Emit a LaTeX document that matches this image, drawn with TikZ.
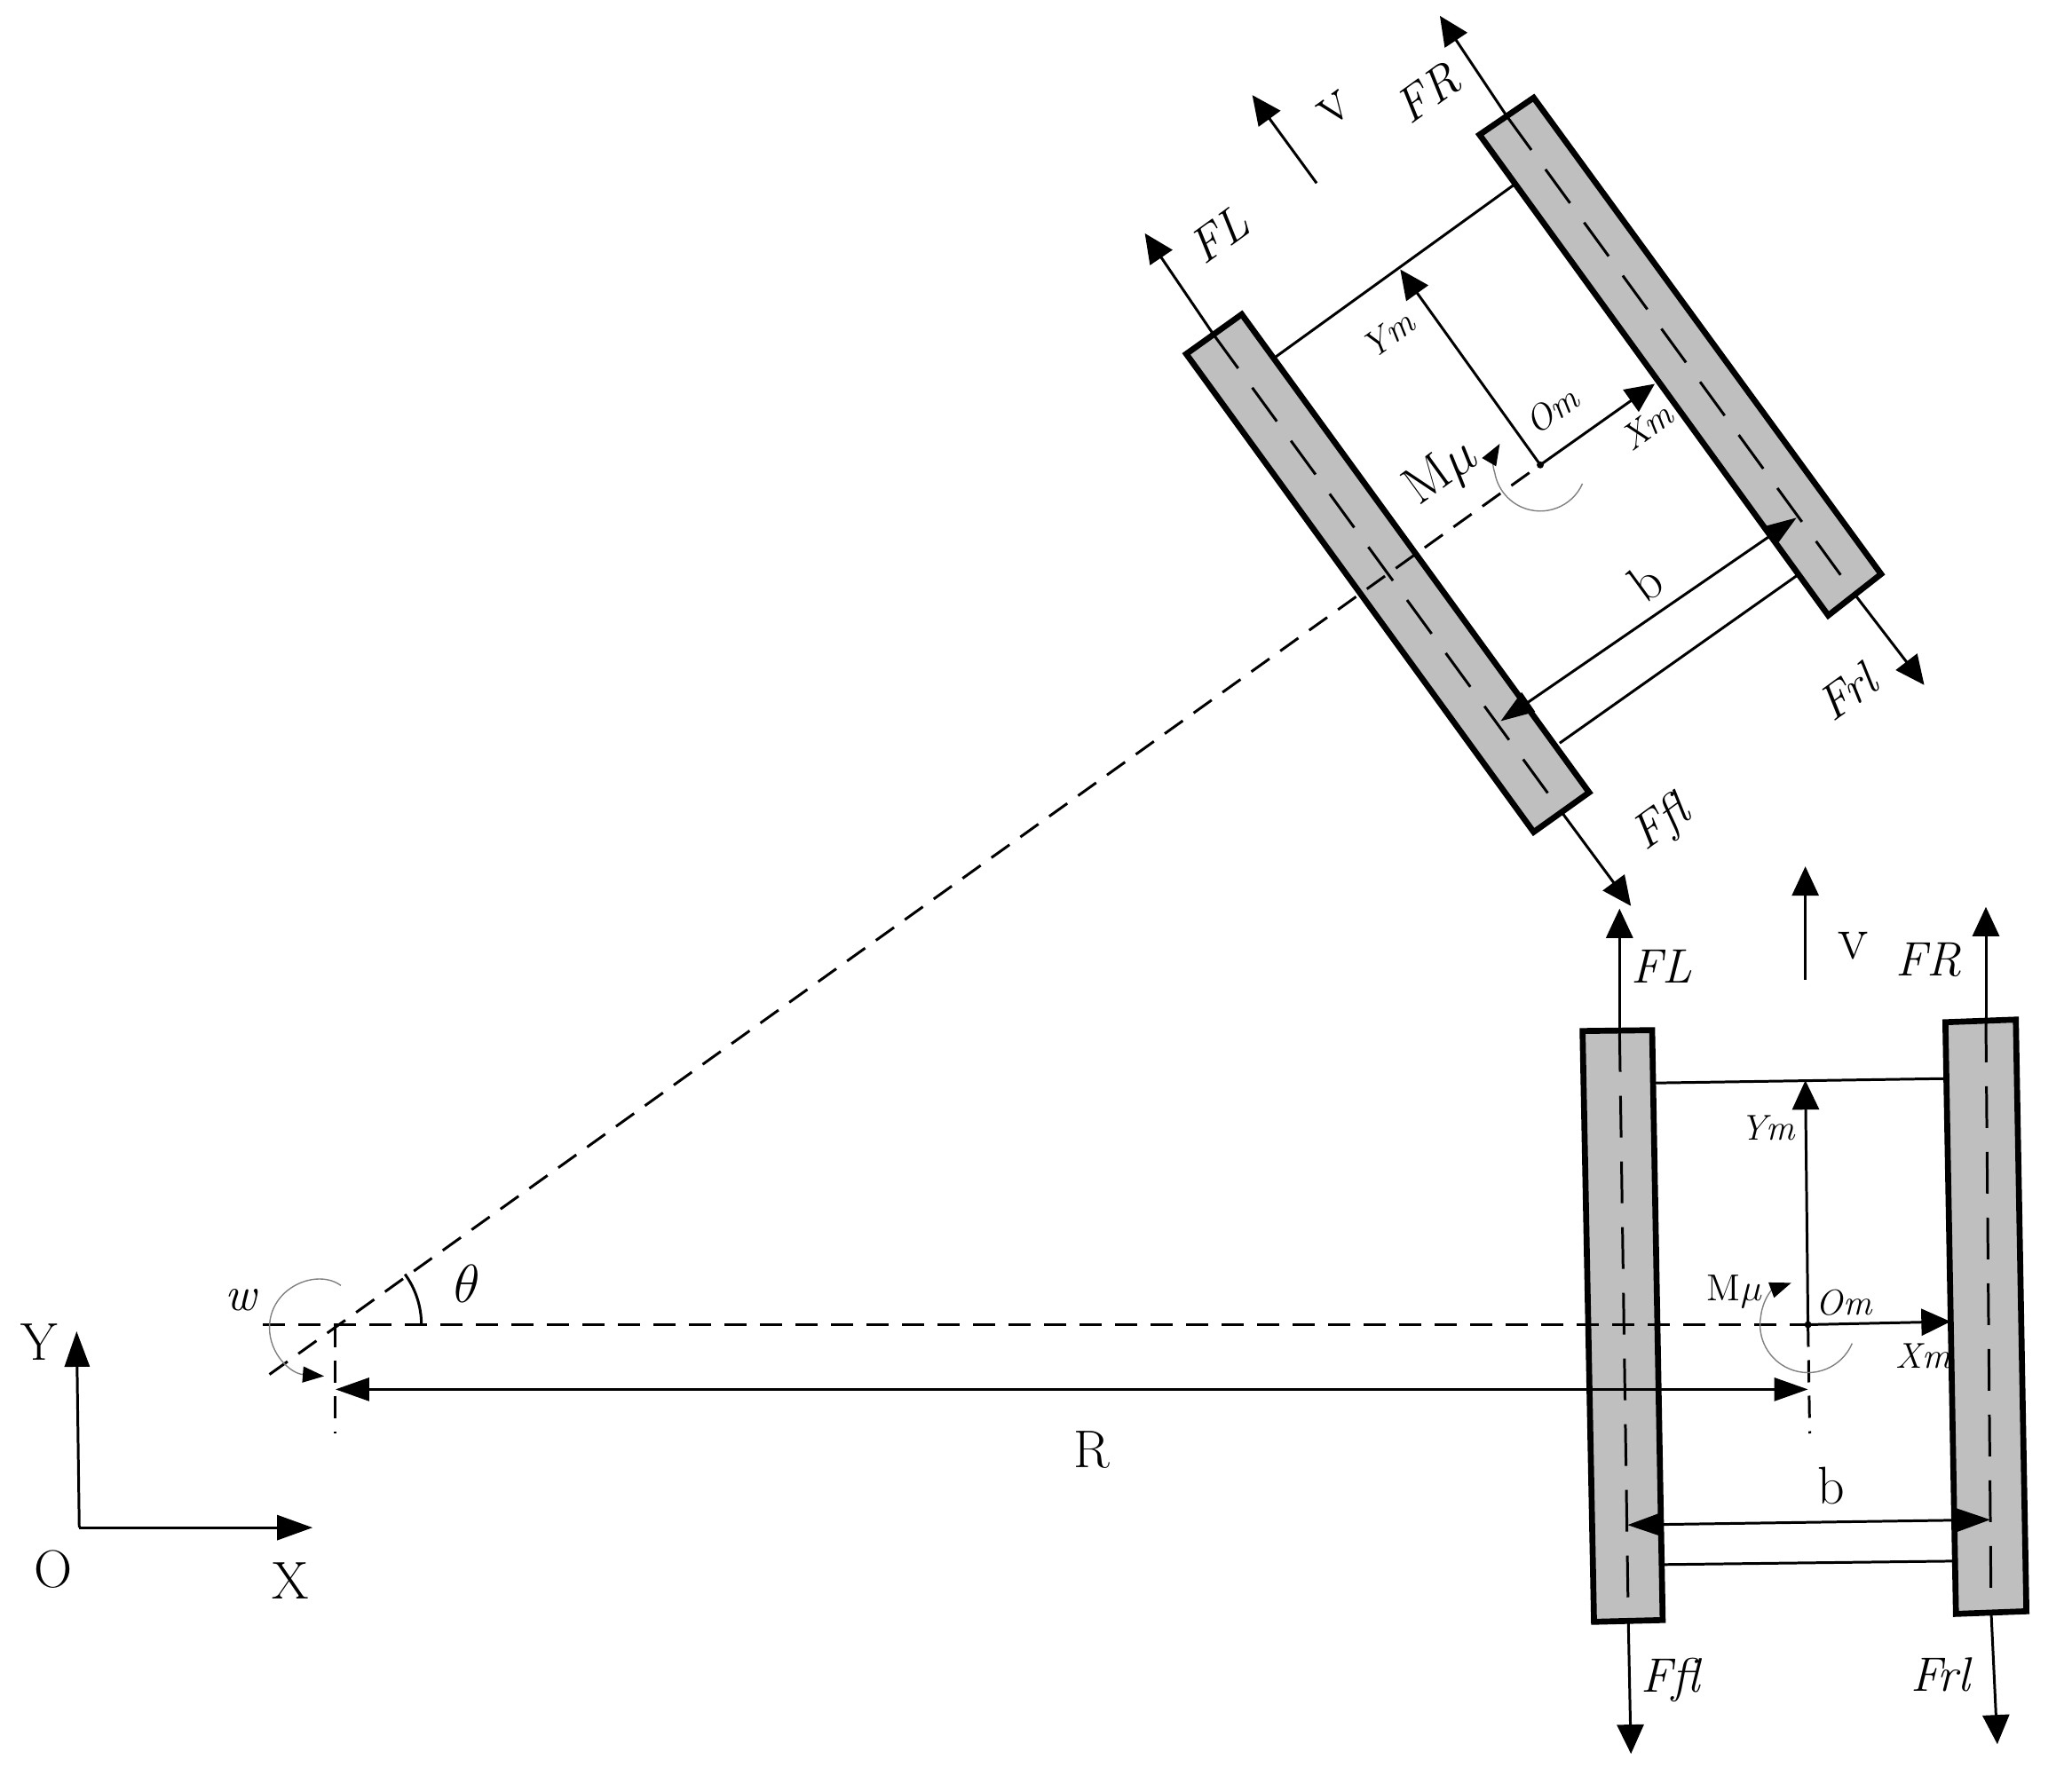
\documentclass[tikz,border=0pt]{standalone}
\usepackage{amsmath,amssymb}
\usepackage{xcolor}
\usepackage{tikz}
\usetikzlibrary{arrows.meta}
\definecolor{wheelgray}{RGB}{191,191,191}
\tikzset{
  wheel/.style={draw=black,line width=1.9pt,fill=wheelgray,line join=miter},
  thinline/.style={black,line width=0.85pt},
  axle/.style={thinline,dash pattern=on 0.47cm off 0.27cm},
  center/.style={thinline,dash pattern=on 0.25cm off 0.15cm},
  force/.style={thinline,-{Triangle[length=3.3mm,width=3mm]}},
  axis/.style={thinline,-{Triangle[length=4mm,width=2.8mm]}},
  dimboth/.style={thinline,{Triangle[length=3.8mm,width=2.6mm]}-{Triangle[length=3.8mm,width=2.6mm]}},
  spin/.style={gray,line width=0.4pt,-{Triangle[length=2.4mm,width=1.8mm,color=black]}},
  big/.style={inner sep=0pt,font=\fontsize{17}{19}\selectfont},
  bigit/.style={inner sep=0pt,font=\fontsize{15.5}{18}\selectfont\itshape},
  small/.style={inner sep=0pt,font=\fontsize{11.5}{14}\selectfont\itshape}
}
\begin{document}
\begin{tikzpicture}[x=0.00992cm,y=-0.00992cm]
    \useasboundingbox (0,0) rectangle (2352.8,2017.1);
    % points
    \coordinate (pivot) at (381,1504.5);
    \coordinate (omU) at (1749,528);
    \coordinate (omL) at (2053,1504.5);
    \coordinate (urT) at (1711,132);
    \coordinate (urB) at (2106,675);
    \coordinate (ulT) at (1378,380);
    \coordinate (ulB) at (1773,922);
    \coordinate (llT) at (1839,1170);
    \coordinate (llB) at (1849,1842);
    \coordinate (lrT) at (2255,1159);
    \coordinate (lrB) at (2261,1831);
    \coordinate (orig) at (90,1735);
    % rotated wheels
    \draw [wheel] (1741.5,111) -- (1680,153) -- (2076,699) -- (2136,652) -- cycle;
    \draw [wheel] (1410,357) -- (1347,402) -- (1741.5,945) -- (1804.5,900) -- cycle;
    \draw [axle] (urT) -- (urB);
    \draw [axle] (ulT) -- (ulB);
    % straight wheels
    \draw [wheel] (1797,1171) -- (1876,1170) -- (1888,1840) -- (1810,1842) -- cycle;
    \draw [wheel] (2209,1161) -- (2289,1158) -- (2301,1830) -- (2221,1833) -- cycle;
    \draw [axle] (llT) -- (llB);
    \draw [axle] (lrT) -- (lrB);
    % centre lines
    \coordinate (slantEnd) at (306,1561);
    \coordinate (horEnd) at (298.5,1504.5);
    \draw [center] (slantEnd) -- (omU);
    \draw [center] (horEnd) -- (omL);
    \coordinate (pivotEnd) at (381,1628);
    \coordinate (omLEnd) at (2055,1628);
    \draw [center] (pivot) -- (pivotEnd);
    \draw [center] (omL) -- (omLEnd);
    % rotated forces
    \coordinate (tipFRu) at (1635,18);
    \coordinate (tipFLu) at (1300,265);
    \coordinate (tipFflu) at (1852,1029);
    \coordinate (tipFrlu) at (2185,778);
    \draw [force] (urT) -- (tipFRu);
    \draw [force] (ulT) -- (tipFLu);
    \draw [force] (ulB) -- (tipFflu);
    \draw [force] (urB) -- (tipFrlu);
    \coordinate (vuS) at (1495,208);
    \coordinate (vuT) at (1422,108);
    \draw [force] (vuS) -- (vuT);
    % rotated frame
    \coordinate (barUa) at (1719,210);
    \coordinate (barUb) at (1449,405);
    \draw [thinline] (barUa) -- (barUb);
    \coordinate (ymU) at (1590,306);
    \coordinate (xmU) at (1879,436);
    \draw [force] (omU) -- (ymU);
    \draw [force] (omU) -- (xmU);
    \fill (omU) circle [radius=4];
    \coordinate (buA) at (2040,588);
    \coordinate (buB) at (1704,819);
    \draw [dimboth] (buA) -- (buB);
    \coordinate (bu2A) at (2040,654);
    \coordinate (bu2B) at (1771,844);
    \draw [thinline] (bu2A) -- (bu2B);
    \coordinate (spinUEnd) at (1703,504);
    \draw [spin] (omU) ++(-24:0.52cm) arc [start angle=-24,end angle=-170,radius=0.52cm] .. controls (1694,528) and (1696,516) .. (spinUEnd);
    % straight forces
    \coordinate (tipFLl) at (1839,1032);
    \coordinate (tipFfll) at (1852,1992);
    \coordinate (tipFRl) at (2255,1030);
    \coordinate (tipFrll) at (2268,1981);
    \draw [force] (llT) -- (tipFLl);
    \draw [force] (llB) -- (tipFfll);
    \draw [force] (lrT) -- (tipFRl);
    \draw [force] (lrB) -- (tipFrll);
    \coordinate (vlS) at (2050,1113);
    \coordinate (vlT) at (2050,984);
    \draw [force] (vlS) -- (vlT);
    % straight frame
    \coordinate (barLa) at (1880,1230);
    \coordinate (barLb) at (2209,1225);
    \draw [thinline] (barLa) -- (barLb);
    \coordinate (ymL) at (2050,1227);
    \coordinate (xmL) at (2215,1501);
    \draw [force] (omL) -- (ymL);
    \draw [force] (omL) -- (xmL);
    \fill (omL) circle [radius=4];
    \coordinate (blA) at (1848,1732);
    \coordinate (blB) at (2260,1726);
    \draw [dimboth] (blA) -- (blB);
    \coordinate (bl2A) at (1888,1777);
    \coordinate (bl2B) at (2221,1773);
    \draw [thinline] (bl2A) -- (bl2B);
    \coordinate (spinLEnd) at (2034,1457);
    \draw [spin] (omL) ++(-23:0.54cm) arc [start angle=-23,end angle=-190,radius=0.54cm] .. controls (2002,1475) and (2012,1465) .. (spinLEnd);
    % R
    \coordinate (rA) at (381,1578);
    \coordinate (rB) at (2053,1578);
    \draw [dimboth] (rA) -- (rB);
    % pivot
    \coordinate (wS) at (387,1460);
    \coordinate (wE) at (368,1563);
    \draw [spin] (wS) .. controls (360,1440) and (306,1462) .. (306,1508) .. controls (306,1538) and (330,1560) .. (wE);
    \coordinate (thS) at (478.5,1504.5);
    \draw [thinline] (thS) arc [start angle=0,end angle=36,radius=0.967cm];
    % axes
    \coordinate (yTip) at (87,1512);
    \coordinate (xTip) at (355,1735);
    \draw [axis] (orig) -- (yTip);
    \draw [axis] (orig) -- (xTip);
    % label
    \node [big] (lY) at (45,1524) {Y};
    \node [big] (lO) at (60,1782) {O};
    \node [big] (lX) at (330,1795) {X};
    \node [bigit] (lw) at (273,1477) {w};
    \node [inner sep=0pt,font=\fontsize{16}{18}\selectfont] (lth) at (530,1458) {$\theta$};
    \node [big] (lR) at (1240,1647) {R};
    \node [bigit] (lFLl) at (1887,1098) {FL};
    \node [bigit] (lFRl) at (2190,1090) {FR};
    \node [inner sep=0pt,font=\fontsize{20}{22}\selectfont] (lvl) at (2104,1074) {v};
    \node [small] (lYml) at (2007,1281) {Ym};
    \node [small] (lOml) at (2094,1480) {Om};
    \node [small] (lXml) at (2184,1540) {Xm};
    \node [inner sep=0pt,font=\fontsize{12}{14}\selectfont] (lMl) at (1970,1467) {M$\mu$};
    \node [big] (lbl) at (2079,1687) {b};
    \node [bigit] (lFfll) at (1897,1908) {Ffl};
    \node [bigit] (lFrll) at (2203,1902) {Frl};
    % rotated label
    \node [bigit,rotate=36] (lFRu) at (1621,106) {FR};
    \node [inner sep=0pt,font=\fontsize{20}{22}\selectfont,rotate=36] (lvu) at (1516,123) {v};
    \node [bigit,rotate=36] (lFLu) at (1384,267) {FL};
    \node [small,rotate=36] (lYmu) at (1576,380) {Ym};
    \node [small,rotate=36] (lOmu) at (1762,466) {Om};
    \node [small,rotate=36] (lXmu) at (1870,484) {Xm};
    \node [big,rotate=36] (lMu) at (1638,538) {M$\mu$};
    \node [big,rotate=36] (lbu) at (1869,661) {b};
    \node [bigit,rotate=36] (lFrlu) at (2097,786) {Frl};
    \node [bigit,rotate=36] (lFflu) at (1887,937) {Ffl};
\end{tikzpicture}
\end{document}
